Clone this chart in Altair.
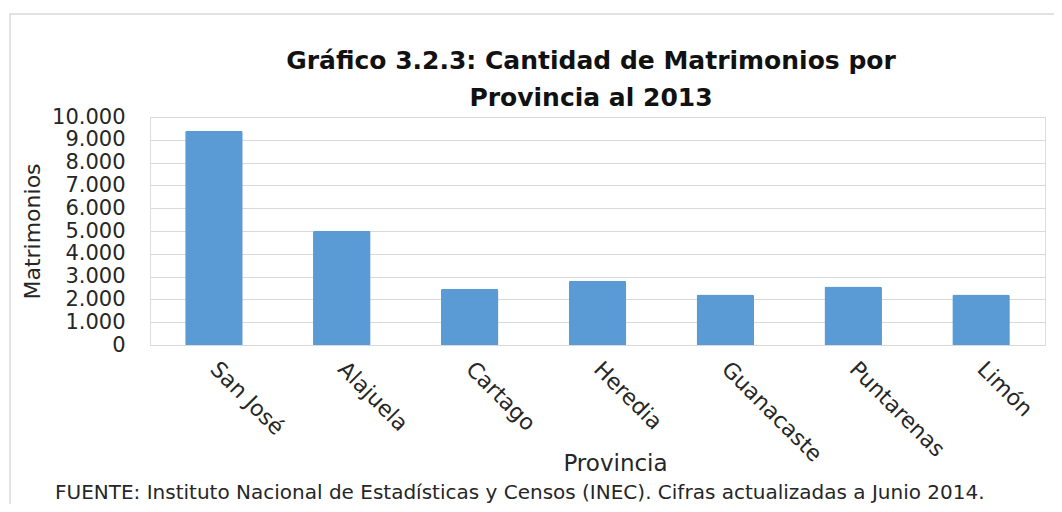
import altair as alt
import pandas as pd

provincias = ["San José", "Alajuela", "Cartago", "Heredia", "Guanacaste", "Puntarenas", "Limón"]
matrimonios = [9400, 5010, 2470, 2820, 2220, 2570, 2220]
fuente = ["FUENTE: Instituto Nacional de Estadísticas y Censos (INEC). Cifras actualizadas a Junio 2014."]
titulo = ["Gráfico 3.2.3: Cantidad de Matrimonios por", "Provincia al 2013"]
y_ticks = list(range(0, 10001, 1000))

df = pd.DataFrame({"Provincia": provincias, "Matrimonios": matrimonios})
FONT = "DejaVu Sans"
GRID = "#d9d9d9"
TXT = "#262626"

bars = alt.Chart(df).mark_bar(color="#5B9BD5", cornerRadiusTopLeft=2, cornerRadiusTopRight=2).encode(
    x=alt.X("Provincia:N", sort=provincias, scale=alt.Scale(paddingInner=0.55, paddingOuter=0.275),
            axis=alt.Axis(title="Provincia", labelAngle=45, labelAlign="left", labelBaseline="middle",
                          labelPadding=20, labelFontSize=22, labelFont=FONT, labelColor=TXT,
                          labelOverlap=False, labelLimit=0, ticks=False, domainColor=GRID,
                          titleFont=FONT, titleFontSize=23, titleFontWeight="normal", titleColor=TXT,
                          titleX=465, titleY=118, titleBaseline="middle")),
    y=alt.Y("Matrimonios:Q", scale=alt.Scale(domain=[0, 10000]),
            axis=alt.Axis(title="Matrimonios", values=y_ticks,
                          labelExpr="replace(format(datum.value, ','), ',', '.')",
                          labelFontSize=21, labelFont=FONT, labelColor=TXT, labelPadding=25,
                          ticks=False, domain=False, gridColor=GRID, gridWidth=1.2,
                          titleFont=FONT, titleFontSize=22, titleFontWeight="normal", titleColor=TXT,
                          titleX=-118, titleY=114, titleBaseline="middle")),
)

note = alt.Chart(pd.DataFrame({"t": fuente})).mark_text(
    align="left", baseline="alphabetic", font=FONT, fontSize=20, color=TXT
).encode(text="t:N", x=alt.value(-95), y=alt.value(382))

head = alt.Chart(pd.DataFrame({"t": ["\n".join(titulo)]})).mark_text(
    align="center", baseline="middle", font=FONT, fontSize=25, fontWeight="bold", color="#111",
    lineBreak="\n", lineHeight=37
).encode(text="t:N", x=alt.value(441), y=alt.value(-56))

frame = alt.Chart(pd.DataFrame({"a": [0]})).mark_rect(
    fillOpacity=0, stroke=GRID, strokeWidth=1.5
).encode(x=alt.value(-140), x2=alt.value(930), y=alt.value(-103), y2=alt.value(420))

chart = alt.layer(frame, bars, note, head).properties(
    width=895, height=228,
    autosize=alt.AutoSizeParams(type="none"),
    padding={"left": 142, "top": 109, "right": 9, "bottom": 159},
).configure_view(stroke=None).configure(background="white")

chart.save("out.html", embed_options={"renderer": "svg", "actions": False})
